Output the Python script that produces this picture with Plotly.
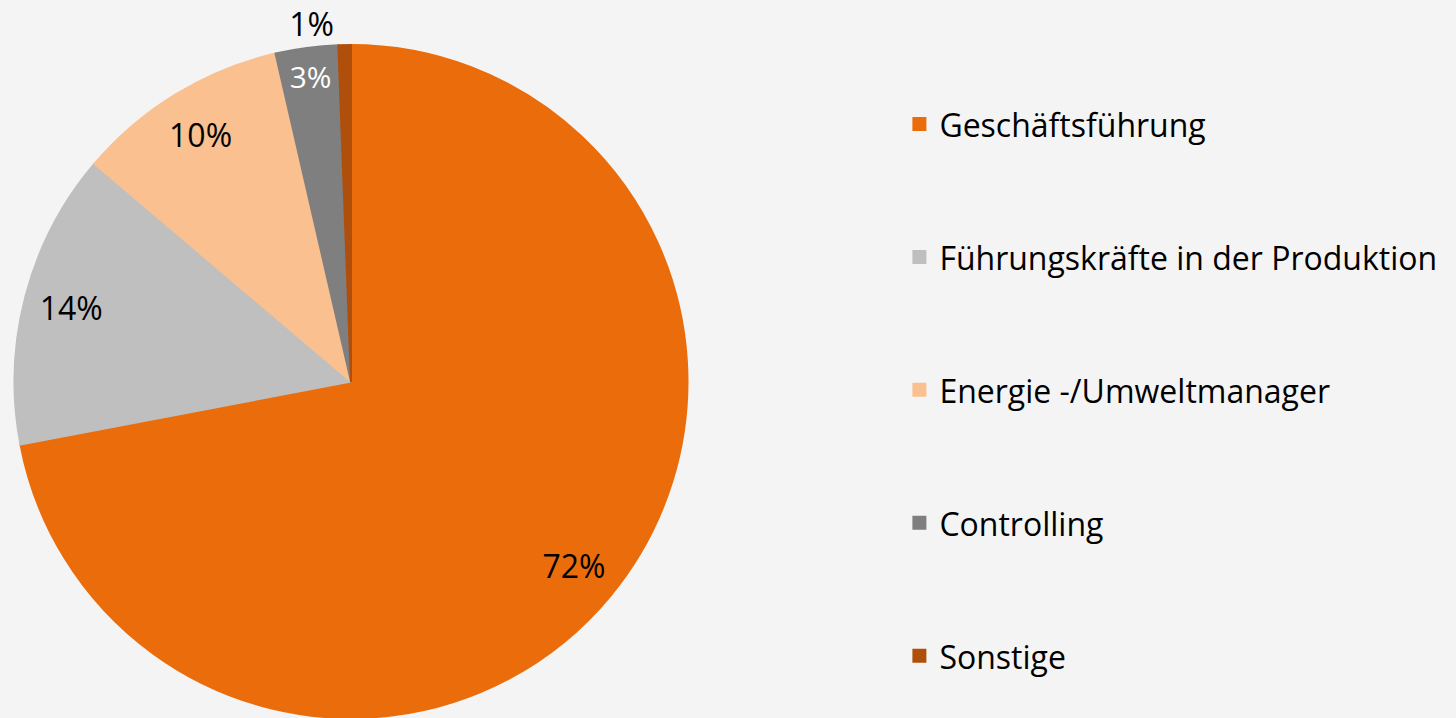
import plotly.graph_objects as go

categories = ["Geschäftsführung", "Führungskräfte in der Produktion",
              "Energie -/Umweltmanager", "Controlling", "Sonstige"]
shares = [72.0, 14.2, 10.2, 3.0, 0.6]
colors = ["#EB6C0B", "#BFBFBF", "#FAC090", "#7F7F7F", "#B04F0B"]
label_colors = ["#000000", "#000000", "#000000", "#FFFFFF", "#000000"]
label_positions = ["inside", "inside", "inside", "inside", "outside"]

legend_labels = ["<br><span style='font-size:32px'>%s</span><br> " % c for c in categories]

domain = dict(x=[0, 674 / 1442], y=[0, 1])

fig = go.Figure()
fig.add_trace(go.Pie(
    labels=legend_labels, values=shares, sort=False, direction="clockwise", rotation=0,
    marker=dict(colors=colors, line=dict(color=colors, width=2)),
    textinfo="none", domain=domain, hoverinfo="skip",
))
fig.add_trace(go.Pie(
    labels=legend_labels, values=shares, sort=False, direction="clockwise", rotation=0,
    hole=0.72, showlegend=False,
    marker=dict(colors=["rgba(0,0,0,0)"] * len(shares), line=dict(width=0)),
    texttemplate="%{percent:.0%}", textposition=label_positions,
    insidetextorientation="horizontal",
    insidetextfont=dict(size=32, color=label_colors, family="Open Sans"),
    outsidetextfont=dict(size=32, color="#000000", family="Open Sans"),
    domain=domain, hoverinfo="skip",
))

fig.update_layout(
    width=1456, height=718,
    paper_bgcolor="#F4F4F4", plot_bgcolor="#F4F4F4",
    margin=dict(l=14, r=0, t=45, b=0, autoexpand=False),
    font=dict(family="Open Sans", color="#000000"),
    showlegend=True,
    legend=dict(x=0.614, xanchor="left", y=0.989, yanchor="top",
                font=dict(size=33.33, family="Open Sans", color="#000000"),
                valign="middle", bgcolor="rgba(0,0,0,0)", maxheight=2000),
)

fig.write_html(
    "out.html",
    config={"displayModeBar": False},
    post_script="document.body.style.margin='0';document.body.style.backgroundColor='#F4F4F4';",
)
